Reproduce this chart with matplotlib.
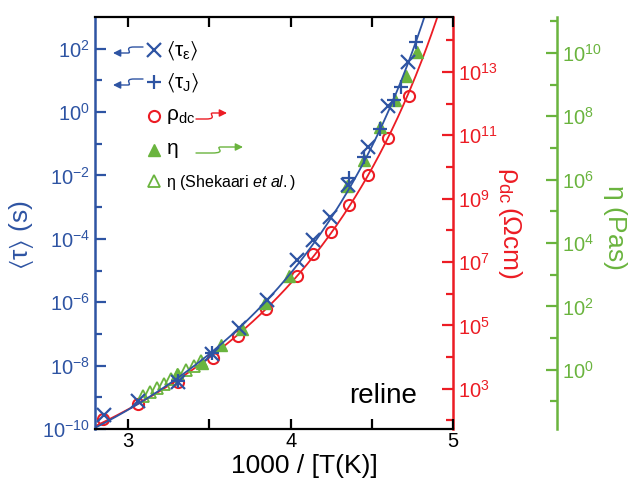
import numpy as np
import matplotlib
matplotlib.use("Agg")
import matplotlib.pyplot as plt
from matplotlib.ticker import FixedLocator, FuncFormatter, MultipleLocator
from matplotlib.patches import FancyArrowPatch
from matplotlib.path import Path

plt.rcParams['font.family'] = ['Liberation Sans', 'DejaVu Sans']
plt.rcParams['mathtext.fontset'] = 'custom'
plt.rcParams['mathtext.rm'] = 'Liberation Sans'
plt.rcParams['mathtext.it'] = 'Liberation Sans:italic'
plt.rcParams['mathtext.sf'] = 'Liberation Sans'
plt.rcParams['mathtext.default'] = 'regular'

BLUE = '#2e54a3'
RED = '#ec1c24'
GREEN = '#6ab43e'

# --- data (x = 1000/T) ---
x_tau_eps = [2.849, 3.057, 3.309, 3.518, 3.683, 3.855, 4.039, 4.139, 4.242, 4.355, 4.479, 4.598, 4.725]
log_tau_eps = [-9.55, -9.13, -8.53, -7.63, -6.82, -5.93, -4.68, -4.05, -3.30, -2.31, -1.10, 0.18, 1.57]

x_tau_J = [3.309, 3.518, 4.357, 4.450, 4.553, 4.636, 4.681, 4.775]
log_tau_J = [-8.50, -7.60, -2.08, -1.41, -0.52, 0.37, 0.79, 2.21]

x_rho = [2.845, 3.062, 3.304, 3.522, 3.677, 3.849, 4.040, 4.139, 4.248, 4.357, 4.476, 4.600, 4.729]
log_rho = [2.05, 2.52, 3.21, 3.97, 4.65, 5.51, 6.56, 7.25, 7.94, 8.80, 9.76, 10.90, 12.24]

x_eta = [3.299, 3.456, 3.571, 3.703, 3.840, 3.989, 4.349, 4.450, 4.553, 4.644, 4.708, 4.778]
log_eta = [-0.13, 0.21, 0.79, 1.27, 2.09, 2.97, 5.81, 6.63, 7.65, 8.50, 9.26, 10.01]

x_eta_shek = [3.091, 3.135, 3.178, 3.222, 3.265, 3.309, 3.358, 3.402, 3.445]
log_eta_shek = [-0.82, -0.70, -0.57, -0.44, -0.29, -0.16, 0.00, 0.12, 0.28]

# VFT fits: log10(y) = A + B / (T - T0)
vft_tau = (-14.04, 806.0, 160.0)
vft_rho = (-2.03, 768.0, 158.1)


def vft(x, p):
    A, B, T0 = p
    T = 1000.0 / x
    return 10 ** (A + B / (T - T0))


fig = plt.figure(figsize=(6.33, 5.0), dpi=100)
ax = fig.add_axes([95 / 633, 1 - 429 / 500, 358 / 633, 412 / 500])
ax_r = ax.twinx()
ax_g = ax.twinx()
ax.set_zorder(3)
ax.patch.set_visible(False)
ax_g.spines['right'].set_position(('axes', (557 - 95) / 358))

xs = np.linspace(2.78, 5.0, 300)

ax_r.plot(xs, vft(xs, vft_rho), color=RED, lw=1.3)
ax_r.plot(x_rho, 10 ** np.array(log_rho), 'o', ms=8, mfc='none', mec=RED, mew=1.5)

ax_g.plot(x_eta_shek, 10 ** np.array(log_eta_shek), '^', ms=8, mfc='none', mec=GREEN, mew=1.3)
ax_g.plot(x_eta, 10 ** np.array(log_eta), '^', ms=8.5, color=GREEN, mec=GREEN)

ax.plot(xs, vft(xs, vft_tau), color=BLUE, lw=1.3)
ax.plot(x_tau_eps, 10 ** np.array(log_tau_eps), 'x', ms=9.5, mec=BLUE, mew=1.6)
ax.plot(x_tau_J, 10 ** np.array(log_tau_J), '+', ms=10.5, mec=BLUE, mew=1.6)

for a in (ax, ax_r, ax_g):
    a.set_yscale('log')
    a.set_xlim(2.795, 5.0)

ax.set_ylim(10 ** -10.0, 10 ** 3.0)
ax_r.set_ylim(10 ** 1.73, 10 ** 14.73)
ax_g.set_ylim(10 ** -1.87, 10 ** 11.13)

fmt = FuncFormatter(lambda v, _: r'$10^{%d}$' % int(round(np.log10(v))))


def set_log_ticks(a, major_exp, minor_exp, color):
    a.yaxis.set_major_locator(FixedLocator([10.0 ** e for e in major_exp]))
    a.yaxis.set_minor_locator(FixedLocator([10.0 ** e for e in minor_exp]))
    a.yaxis.set_major_formatter(fmt)
    a.yaxis.set_minor_formatter(FuncFormatter(lambda v, _: ''))
    a.tick_params(axis='y', which='major', length=8, width=1.6, color=color,
                  labelcolor=color, labelsize=14.5, direction='in')
    a.tick_params(axis='y', which='minor', length=5, width=1.6, color=color, direction='in')


set_log_ticks(ax, range(-10, 3, 2), range(-9, 3, 2), BLUE)
set_log_ticks(ax_r, range(3, 15, 2), range(2, 15, 2), RED)
set_log_ticks(ax_g, range(0, 11, 2), range(-1, 12, 2), GREEN)

ax.xaxis.set_major_locator(MultipleLocator(1))
ax.xaxis.set_minor_locator(MultipleLocator(0.5))
ax.tick_params(axis='x', which='both', direction='in', length=7, width=1.6,
               top=True, labelsize=14.5, pad=2)

for s in ('top', 'bottom'):
    ax.spines[s].set_linewidth(1.6)
ax.spines['left'].set_color(BLUE)
ax.spines['left'].set_linewidth(1.8)
for s in ('left', 'top', 'bottom', 'right'):
    ax_r.spines[s].set_visible(s == 'right')
    ax_g.spines[s].set_visible(s == 'right')
ax.spines['right'].set_visible(False)
ax_r.spines['right'].set_color(RED)
ax_r.spines['right'].set_linewidth(1.8)
ax_g.spines['right'].set_color(GREEN)
ax_g.spines['right'].set_linewidth(1.8)

ax.set_xlabel('1000 / [T(K)]', fontsize=19)
ax.xaxis.set_label_coords(0.584, -0.06)
ax.set_ylabel(r'$\langle\tau\rangle$ (s)', fontsize=19, color=BLUE)
ax.yaxis.set_label_coords(-0.165, 0.47)
ax_r.set_ylabel(r'$\rho_{dc}\,(\Omega cm)$', fontsize=19, color=RED, rotation=270, va='center')
ax_r.yaxis.set_label_coords(1.159, 0.5)
ax_g.set_ylabel(r'$\eta$ (Pas)', fontsize=19, color=GREEN, rotation=270, va='center')
ax_g.yaxis.set_label_coords(1.453, 0.49)


# --- hand-made legend (pixel layout converted to axes fraction) ---
def fx(px):
    return (px - 95) / 358


def fy(py):
    return (429 - py) / 412


ax.text(fx(383), fy(396), 'reline', fontsize=20, ha='center', va='center',
        transform=ax.transAxes)

legend_rows = [
    ('x', dict(mec=BLUE, mew=1.6, ms=9.5), r'$\langle\tau_{\epsilon}\rangle$', 50, 'left', BLUE),
    ('+', dict(mec=BLUE, mew=1.6, ms=10.5), r'$\langle\tau_{J}\rangle$', 82, 'left', BLUE),
    ('o', dict(mfc='none', mec=RED, mew=1.5, ms=8), r'$\rho_{dc}$', 116, 'right_short', RED),
    ('^', dict(color=GREEN, ms=8.5), r'$\eta$', 150, 'right_long', GREEN),
    ('^', dict(mfc='none', mec=GREEN, mew=1.3, ms=8), r'$\eta$ (Shekaari $\mathit{et\ al.}$)', 181, None, None),
]


def squiggle(x0, x1, xa, xb, y_from, y_to):
    verts = [(x0, y_from), (xa, y_from),
             (xa + (xb - xa) * 1.8, y_from), (xb - (xb - xa) * 0.8, y_to), (xb, y_to),
             (x1, y_to)]
    codes = [Path.MOVETO, Path.LINETO, Path.CURVE4, Path.CURVE4, Path.CURVE4, Path.LINETO]
    return Path([(fx(a), fy(b)) for a, b in verts], codes)


for marker, style, label, py, arrow, acol in legend_rows:
    ax.plot([fx(154)], [fy(py)], marker, transform=ax.transAxes, clip_on=False, **style)
    fs = 11.5 if 'Shekaari' in label else 15
    ax.text(fx(166), fy(py + 1), label, transform=ax.transAxes, fontsize=fs, va='center')
    if arrow == 'left':
        p = squiggle(143, 113, 134, 128, py - 3, py + 3)
    elif arrow == 'right_short':
        p = squiggle(196, 227, 206, 213, py + 3, py - 3)
    elif arrow == 'right_long':
        p = squiggle(196, 243, 212, 221, py + 3, py - 3)
    else:
        continue
    ax.add_patch(FancyArrowPatch(path=p, arrowstyle='-|>', mutation_scale=11,
                                 color=acol, lw=1.0, transform=ax.transAxes, clip_on=False))

fig.savefig('out.png', dpi=100, facecolor='white')
